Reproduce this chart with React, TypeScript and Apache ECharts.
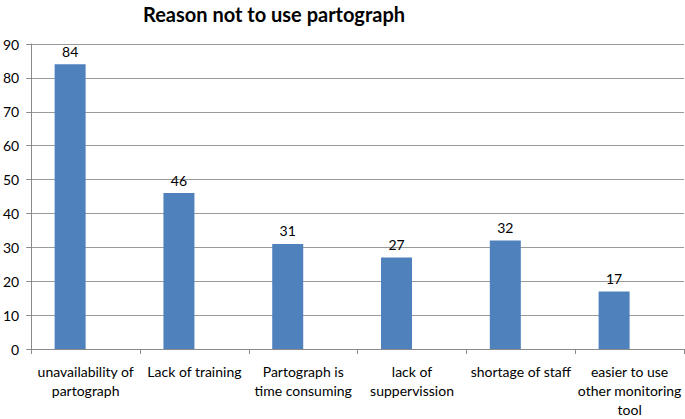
import React, { useEffect, useRef } from "react";
import * as echarts from "echarts";

const categories = [
  "unavailability of\npartograph",
  "Lack of training",
  "Partograph is\ntime consuming",
  "lack of\nsuppervission",
  "shortage of staff",
  "easier to use\nother monitoring\ntool",
];
const values = [84, 46, 31, 27, 32, 17];
const yTicks = { min: 0, max: 90, interval: 10 };
const title = "Reason not to use partograph";

export default function App() {
  const ref = useRef<HTMLDivElement>(null);
  useEffect(() => {
    if (!ref.current) return;
    const chart = echarts.init(ref.current, null, { renderer: "svg" });
    const font = "Lato, 'Open Sans', sans-serif";
    chart.setOption({
      animation: false,
      title: {
        text: title,
        left: 138,
        top: -1,
        textStyle: { fontFamily: font, fontWeight: "bold", fontSize: 20, color: "#000" },
      },
      grid: { left: 29, right: 1, top: 44, bottom: 63, containLabel: false },
      xAxis: {
        type: "category",
        data: categories,
        axisLine: { lineStyle: { color: "#8a8a8a", width: 1 } },
        axisTick: { show: true, length: 5, lineStyle: { color: "#8a8a8a" } },
        axisLabel: {
          fontFamily: font,
          fontSize: 14,
          color: "#000",
          lineHeight: 19,
          margin: 13,
          interval: 0,
        },
      },
      yAxis: {
        type: "value",
        min: yTicks.min,
        max: yTicks.max,
        interval: yTicks.interval,
        axisLine: { show: true, lineStyle: { color: "#8a8a8a", width: 1 } },
        axisTick: { show: true, length: 5, lineStyle: { color: "#8a8a8a" } },
        splitLine: { lineStyle: { color: "#9a9a9a", width: 1 } },
        axisLabel: { fontFamily: font, fontSize: 14, color: "#000", margin: 12 },
      },
      series: [
        {
          type: "bar",
          data: values,
          barWidth: 31,
          barGap: 0,
          itemStyle: { color: "#4F81BD" },
          label: {
            show: true,
            position: "top",
            distance: 6,
            fontFamily: font,
            fontSize: 14,
            color: "#000",
          },
        },
        {
          type: "bar",
          data: values.map(() => null),
          barWidth: 31,
          barGap: 0,
        },
      ],
    });
    return () => chart.dispose();
  }, []);
  return (
    <div
      ref={ref}
      style={{ position: "absolute", left: 0, top: 0, width: 685, height: 419 }}
    />
  );
}
